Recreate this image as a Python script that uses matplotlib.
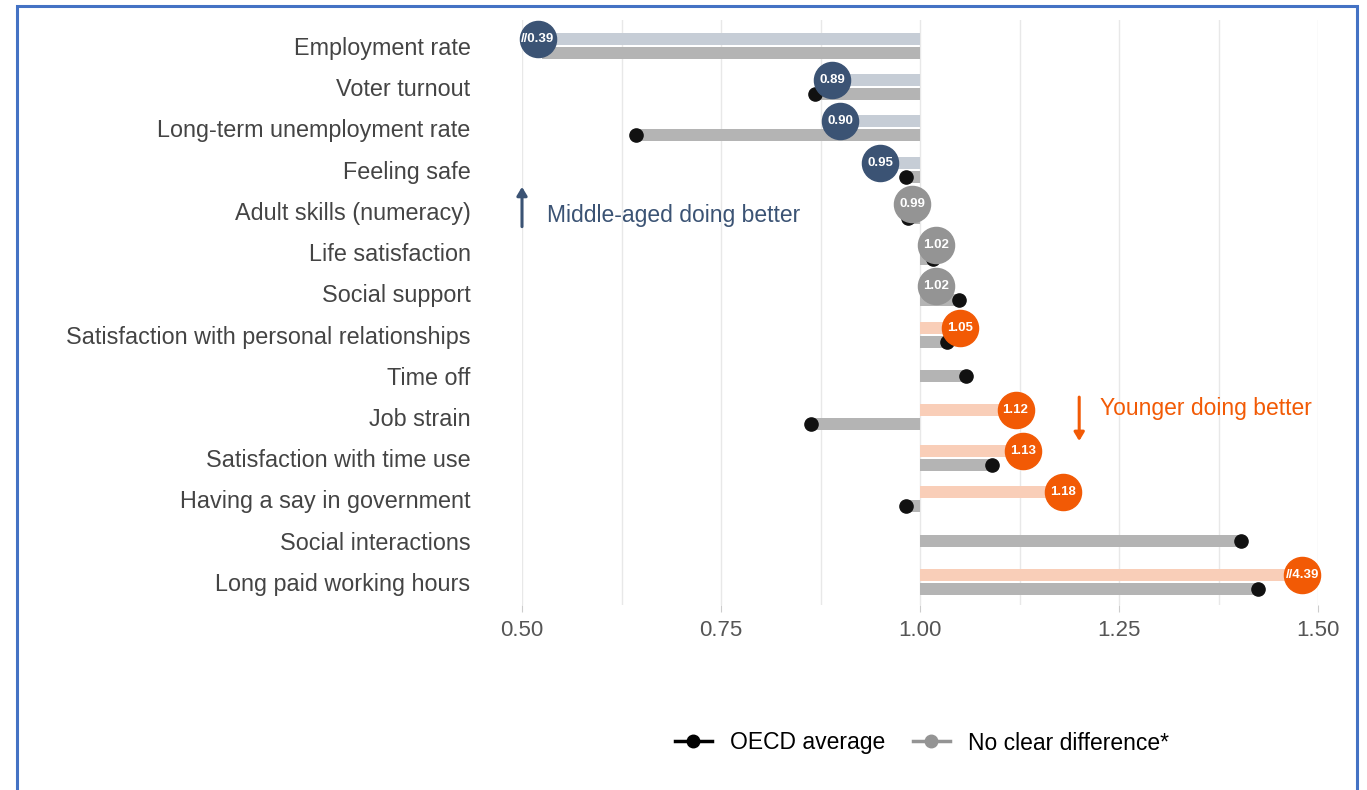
import numpy as np
import matplotlib
matplotlib.use("Agg")
import matplotlib.pyplot as plt
from matplotlib.lines import Line2D
from matplotlib.patches import Rectangle

plt.rcParams['font.family'] = ['Liberation Sans', 'DejaVu Sans']

categories = ["Employment rate", "Voter turnout", "Long-term unemployment rate",
              "Feeling safe", "Adult skills (numeracy)", "Life satisfaction",
              "Social support", "Satisfaction with personal relationships",
              "Time off", "Job strain", "Satisfaction with time use",
              "Having a say in government", "Social interactions",
              "Long paid working hours"]
country_values = [0.39, 0.89, 0.90, 0.95, 0.99, 1.02, 1.02, 1.05, None,
                  1.12, 1.13, 1.18, None, 4.39]
status = ["mid", "mid", "mid", "mid", "none", "none", "none", "young", None,
          "young", "young", "young", None, "young"]
oecd_values = [0.45, 0.868, 0.643, 0.982, 0.985, 1.016, 1.049, 1.034, 1.058,
               0.863, 1.09, 0.982, 1.403, 1.425]
x_ticks = [0.50, 0.75, 1.00, 1.25, 1.50]

NAVY = "#3b5374"
NAVY_L = "#c6cdd6"
ORANGE = "#f25a05"
ORANGE_L = "#f9ceb8"
GREY_C = "#949494"
GREY_B = "#b4b4b4"
circle_col = {"mid": NAVY, "young": ORANGE, "none": GREY_C}
bar_col = {"mid": NAVY_L, "young": ORANGE_L, "none": GREY_B}
CLIP_LO, CLIP_HI = 0.525, 1.48

fig = plt.figure(figsize=(13.67, 7.90), dpi=100)
ax = fig.add_axes([522/1367, 1-605/790, 796/1367, 585/790])

y = np.arange(len(categories))
off = 0.17
bh = 0.29

for i, cat in enumerate(categories):
    cv = country_values[i]
    o_off = off if cv is not None else 0.0
    # OECD bar
    ov = oecd_values[i]
    ovc = min(max(ov, CLIP_LO), CLIP_HI)
    ax.barh(y[i] + o_off, ovc - 1.0, left=1.0, height=bh, color=GREY_B, zorder=2)
    if ov == ovc:
        ax.plot(ov, y[i] + o_off, 'o', color="#111111", ms=9.5, zorder=4, clip_on=False)
    if cv is None:
        continue
    cvc = min(max(cv, CLIP_LO - 0.005), CLIP_HI)
    st = status[i]
    ax.barh(y[i] - off, cvc - 1.0, left=1.0, height=bh, color=bar_col[st], zorder=2)
    ax.plot(cvc, y[i] - off, 'o', color=circle_col[st], ms=26, zorder=5, clip_on=False)
    lab = f"{cv:.2f}" if cv == cvc else f"//{cv:.2f}"
    ax.text(cvc, y[i] - off, lab, color="white", fontsize=9.5, fontweight="bold",
            ha="center", va="center", zorder=6)

ax.set_xlim(0.5, 1.5)
ax.set_ylim(len(categories) - 0.44, -0.63)
ax.set_yticks(y)
ax.set_yticklabels(categories, fontsize=16.8, color="#444444")
ax.set_xticks(x_ticks)
ax.set_xticklabels([f"{t:.2f}" for t in x_ticks], fontsize=16, color="#555555")
ax.set_xticks([0.625, 0.875, 1.125, 1.375], minor=True)
ax.tick_params(axis='y', length=0, pad=37)
ax.tick_params(axis='x', which='major', length=5, color="#cccccc", pad=6)
ax.tick_params(axis='x', which='minor', length=0)
ax.grid(axis='x', which='both', color="#e8e8e8", lw=1.0, zorder=0)
ax.set_axisbelow(True)
for s in ax.spines.values():
    s.set_visible(False)

# annotations
ax.annotate("", xy=(0.5, 3.35), xytext=(0.5, 4.45),
            arrowprops=dict(arrowstyle="-|>,head_length=0.5,head_width=0.3", color=NAVY, lw=2.2))
ax.text(0.532, 4.12, "Middle-aged doing better", color=NAVY, fontsize=16.5,
        ha="left", va="center")
ax.annotate("", xy=(1.2, 9.65), xytext=(1.2, 8.45),
            arrowprops=dict(arrowstyle="-|>,head_length=0.5,head_width=0.3", color=ORANGE, lw=2.2))
ax.text(1.226, 8.8, "Younger doing better", color=ORANGE, fontsize=16.5,
        ha="left", va="center")

handles = [Line2D([0], [0], color="black", lw=2.5, marker='o', ms=9),
           Line2D([0], [0], color=GREY_C, lw=2.5, marker='o', ms=9)]
fig.legend(handles, ["OECD average", "No clear difference*"], loc="center",
           bbox_to_anchor=(922/1367, 1-743/790), ncol=2, frameon=False,
           fontsize=16.5, handlelength=1.6, columnspacing=1.2, handletextpad=0.8)

fig.patches.append(Rectangle((17/1367, -0.05), (1357-17)/1367, 1.05-6/790,
                             transform=fig.transFigure, fill=False,
                             edgecolor="#4472c4", lw=2.2))

fig.savefig("out.png", dpi=100)
